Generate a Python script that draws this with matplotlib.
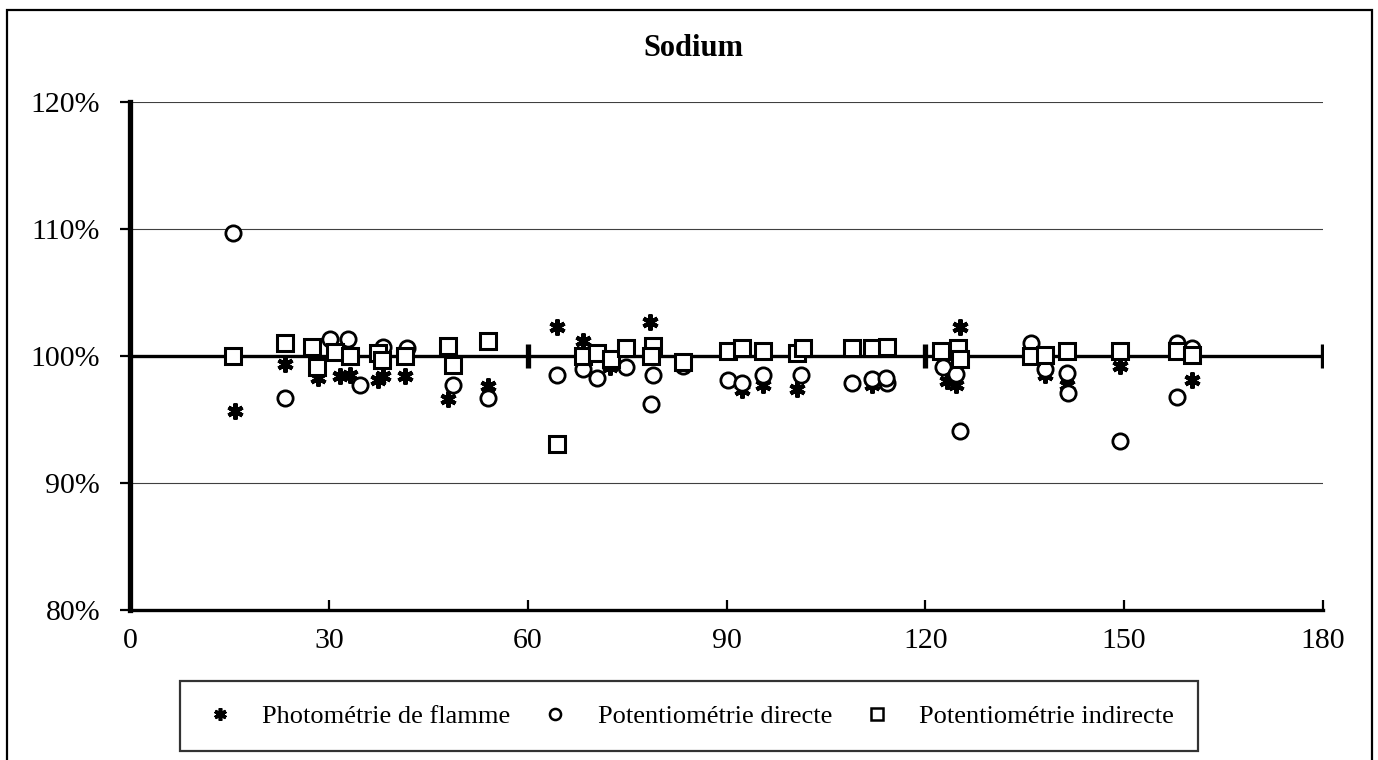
import matplotlib
matplotlib.use("Agg")
import matplotlib.pyplot as plt
from matplotlib.patches import Rectangle
from matplotlib.lines import Line2D
from matplotlib.ticker import FuncFormatter

plt.rcParams['font.family'] = ['Liberation Serif', 'DejaVu Serif']

title = "Sodium"
series_names = ["Photométrie de flamme", "Potentiométrie directe", "Potentiométrie indirecte"]

flamme_x = [15.8, 23.4, 28.3, 31.7, 33.2, 37.4, 38.2, 41.5, 48.0, 54.0, 64.4, 68.3, 72.4, 74.9,
            78.4, 92.3, 95.5, 100.6, 108.9, 111.9, 114.2, 123.2, 124.7, 125.2, 138.0, 141.4, 149.3, 160.2]
flamme_y = [95.7, 99.4, 98.3, 98.4, 98.5, 98.1, 98.4, 98.4, 96.6, 97.6, 102.3, 101.2, 99.1, 99.1,
            102.7, 97.3, 97.7, 97.4, 97.9, 97.7, 97.9, 98.0, 97.7, 102.3, 98.5, 97.7, 99.2, 98.1]

directe_x = [15.6, 23.4, 30.2, 32.9, 34.7, 38.2, 41.8, 48.7, 54.0, 64.4, 68.3, 70.4, 74.9, 78.9,
             78.6, 83.4, 90.2, 92.3, 95.5, 101.3, 108.9, 112.0, 114.2, 114.0, 122.6, 124.7, 125.2,
             136.0, 138.0, 141.3, 141.5, 149.3, 158.0, 158.0, 160.3]
directe_y = [109.7, 96.7, 101.3, 101.3, 97.7, 100.7, 100.6, 97.7, 96.7, 98.5, 99.0, 98.3, 99.1, 98.5,
             96.2, 99.2, 98.1, 97.9, 98.5, 98.5, 97.9, 98.2, 97.9, 98.3, 99.1, 98.6, 94.1,
             101.0, 99.0, 98.7, 97.1, 93.3, 96.8, 101.0, 100.6]

indirecte_x = [15.6, 23.4, 27.4, 28.2, 30.9, 33.2, 37.4, 38.0, 41.5, 48.0, 48.7, 54.0, 64.4, 68.3,
               70.4, 72.5, 74.9, 78.9, 78.6, 83.4, 90.2, 92.3, 95.5, 100.6, 101.5, 109.0, 111.9,
               114.2, 122.4, 124.9, 125.2, 136.0, 138.0, 141.3, 149.3, 158.0, 160.3]
indirecte_y = [100.0, 101.0, 100.7, 99.1, 100.3, 100.0, 100.2, 99.7, 100.0, 100.8, 99.3, 101.2, 93.1, 100.0,
               100.2, 99.8, 100.6, 100.8, 100.0, 99.5, 100.4, 100.6, 100.4, 100.2, 100.6, 100.6, 100.6,
               100.7, 100.4, 100.6, 99.8, 100.0, 100.1, 100.4, 100.4, 100.4, 100.1]

ref_level = 100
ref_ticks = [60, 120, 180]
x_ticks = [0, 30, 60, 90, 120, 150, 180]
y_ticks = [80, 90, 100, 110, 120]

W, H = 1378, 760
fig = plt.figure(figsize=(W / 100, H / 100), dpi=100)
ax = fig.add_axes([130 / W, 150 / H, 1193 / W, 508 / H])

ax.set_xlim(0, 180)
ax.set_ylim(80, 120)

for s in ['top', 'right']:
    ax.spines[s].set_visible(False)
ax.spines['left'].set_linewidth(3.8)
ax.spines['bottom'].set_linewidth(2.4)
ax.spines['left'].set_zorder(6)

ax.set_yticks(y_ticks)
ax.set_xticks(x_ticks)
ax.yaxis.set_major_formatter(FuncFormatter(lambda v, p: f"{int(v)}%"))
ax.tick_params(axis='y', direction='out', length=7.5, width=1.6, pad=14, labelsize=21.5)
ax.tick_params(axis='x', direction='in', length=7, width=1.6, pad=13, labelsize=21.5)

for yv in y_ticks[1:]:
    if yv != ref_level:
        ax.plot([0, 180], [yv, yv], color='#404040', lw=0.8, zorder=1)

ax.plot([0, 180], [ref_level, ref_level], color='black', lw=2.4, zorder=2)
ax.plot(ref_ticks, [ref_level] * len(ref_ticks), linestyle='none', marker='|',
        markersize=17, markeredgewidth=3.8, color='black', zorder=2)

ax.plot(flamme_x, flamme_y, linestyle='none', marker=(6, 2, 0), markersize=11.5,
        markeredgewidth=3.0, color='black', zorder=3, label=series_names[0])
ax.plot(directe_x, directe_y, linestyle='none', marker='o', markersize=11,
        markeredgewidth=2.0, markerfacecolor='white', markeredgecolor='black', zorder=4,
        label=series_names[1])
ax.plot(indirecte_x, indirecte_y, linestyle='none', marker='s', markersize=11.5,
        markeredgewidth=2.2, markerfacecolor='white', markeredgecolor='black', zorder=5,
        label=series_names[2])

fig.text(693 / W, 1 - 49 / H, title, ha='center', va='center', fontsize=22, fontweight='bold')

lh = [Line2D([], [], linestyle='none', marker=(6, 2, 0), markersize=9, markeredgewidth=2.6, color='black'),
      Line2D([], [], linestyle='none', marker='o', markersize=8, markeredgewidth=1.8,
             markerfacecolor='white', markeredgecolor='black'),
      Line2D([], [], linestyle='none', marker='s', markersize=8, markeredgewidth=1.8,
             markerfacecolor='white', markeredgecolor='black')]
leg = fig.legend(lh, series_names, loc='center', bbox_to_anchor=(689 / W, 1 - 716 / H), ncol=3,
                 fontsize=19, frameon=True, fancybox=False, edgecolor='black',
                 handlelength=1.2, handletextpad=1.0, columnspacing=1.1, borderpad=0.9)
leg.get_frame().set_linewidth(1.6)

fig.patches.append(Rectangle((7 / W, -0.01), (1372 - 7) / W, 1.01 - 10 / H, transform=fig.transFigure,
                             fill=False, edgecolor='black', linewidth=1.6))

fig.savefig('out.png', dpi=100)
